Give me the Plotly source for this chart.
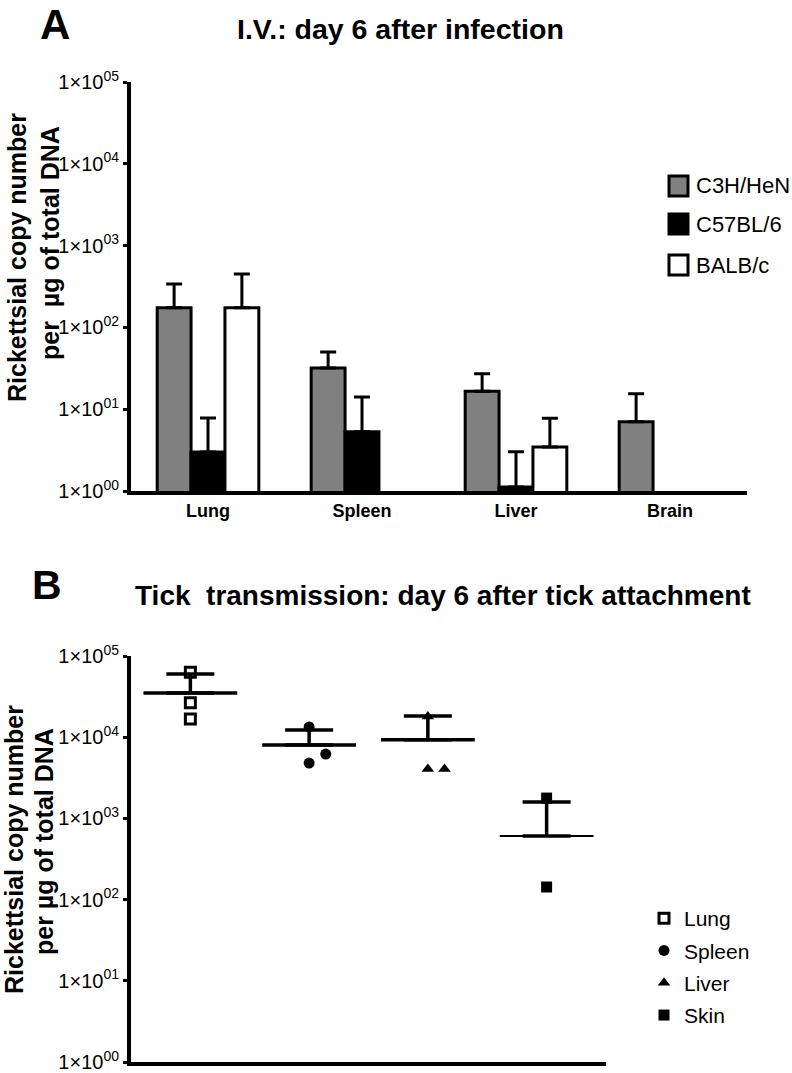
import plotly.graph_objects as go

W, H = 792, 1073
FONT = "Liberation Sans, Arial, sans-serif"

# ---------------- Panel A data ----------------
organs_a = ["Lung", "Spleen", "Liver", "Brain"]
strains = ["C3H/HeN", "C57BL/6", "BALB/c"]
c3h_vals = [174, 32, 16.6, 7.0]
c3h_err = [165, 18, 10.5, 8.4]
c57_vals = [3.0, 5.3, 1.12, None]
c57_err = [4.8, 8.8, 1.9, None]
balb_vals = [174, None, 3.45, None]
balb_err = [275, None, 4.3, None]
strain_colors = ["#808080", "#000000", "#ffffff"]

# ---------------- Panel B data ----------------
organs_b = ["Lung", "Spleen", "Liver", "Skin"]
lung_vals = [63000, 26500, 16700]
lung_jit = [0, 0, 0]
spleen_vals = [13400, 4800, 6200]
spleen_jit = [0, 0, 0.14]
liver_vals = [18000, 4060, 4060]
liver_jit = [0, 0, 0.14]
skin_vals = [1780, 143]
skin_jit = [0, 0]
means_b = [35000, 8000, 9300, 605]
upper_b = [60000, 12300, 18200, 1590]

tick_vals = [1, 10, 100, 1000, 10000, 100000]
tick_text = ["1×10<sup>00</sup>", "1×10<sup>01</sup>", "1×10<sup>02</sup>",
             "1×10<sup>03</sup>", "1×10<sup>04</sup>", "1×10<sup>05</sup>"]


def px(x):
    return x / W


def py(y):
    return 1 - y / H


fig = go.Figure()

# Panel A bars
for name, vals, errs, col in zip(strains, [c3h_vals, c57_vals, balb_vals],
                                 [c3h_err, c57_err, balb_err], strain_colors):
    fig.add_trace(go.Bar(
        x=organs_a, y=vals, name=name, showlegend=False,
        marker=dict(color=col, line=dict(color="black", width=3)),
        error_y=dict(type="data", array=errs, arrayminus=[0] * len(errs),
                     symmetric=False, color="black", thickness=3, width=8),
        xaxis="x", yaxis="y"))

# Panel B points
markers = [
    dict(symbol="square-open", size=10, color="black", line=dict(width=3, color="black")),
    dict(symbol="circle", size=11, color="black"),
    dict(symbol="triangle-up", size=11, color="black"),
    dict(symbol="square", size=11, color="black"),
]
for i, (name, vals, jit, mk) in enumerate(zip(organs_b,
                                              [lung_vals, spleen_vals, liver_vals, skin_vals],
                                              [lung_jit, spleen_jit, liver_jit, skin_jit],
                                              markers)):
    fig.add_trace(go.Scatter(
        x=[i + j for j in jit], y=vals, mode="markers", name=name, legendgroup=name,
        marker=mk, xaxis="x2", yaxis="y2", showlegend=True))

# Panel B mean lines with SEM bars
fig.add_trace(go.Scatter(
    x=list(range(len(organs_b))), y=means_b, mode="markers", showlegend=False,
    marker=dict(symbol="line-ew", size=67, color="black",
                line=dict(color="black", width=[3.5, 3.5, 3.5, 2])),
    error_y=dict(type="data", array=[u - m for u, m in zip(upper_b, means_b)],
                 arrayminus=[0] * len(means_b), symmetric=False,
                 color="black", thickness=3.5, width=24),
    xaxis="x2", yaxis="y2"))

axis_common = dict(showline=True, linecolor="black", linewidth=4, showgrid=False,
                   zeroline=False)
yaxis_common = dict(axis_common, type="log", range=[0, 5], tickvals=tick_vals,
                    ticktext=tick_text, ticks="outside", ticklen=4, tickwidth=3,
                    tickcolor="black", tickfont=dict(size=20, color="black", family=FONT))

fig.update_layout(
    width=W, height=H, autosize=False,
    margin=dict(l=0, r=0, t=0, b=0, pad=0, autoexpand=False),
    paper_bgcolor="white", plot_bgcolor="white",
    font=dict(family=FONT, color="black"),
    barmode="group", bargap=0.34, bargroupgap=0,
    xaxis=dict(axis_common, domain=[px(131), px(747)], type="category",
               categoryorder="array", categoryarray=organs_a, range=[-0.5, 3.5],
               ticks="", tickfont=dict(size=18, color="black", family=FONT, weight="bold"),
               anchor="y"),
    yaxis=dict(yaxis_common, domain=[py(491), py(82)], anchor="x"),
    xaxis2=dict(axis_common, domain=[px(131), px(606)], range=[-0.5, 3.5],
                showticklabels=False, ticks="", anchor="y2"),
    yaxis2=dict(yaxis_common, domain=[py(1062), py(656)], anchor="x2"),
    legend=dict(x=px(644), y=py(898), xanchor="left", yanchor="top",
                font=dict(size=21, family=FONT, color="black"),
                bgcolor="rgba(0,0,0,0)", tracegroupgap=2, itemwidth=30),
)

# Manual legend for panel A
legend_rows = [186, 224, 265]
for name, col, yc in zip(strains, strain_colors, legend_rows):
    fig.add_shape(type="rect", xref="paper", yref="paper",
                  x0=px(669), x1=px(688), y0=py(yc + 10), y1=py(yc - 10),
                  line=dict(color="black", width=3), fillcolor=col)
    fig.add_annotation(x=px(694), y=py(yc), xref="paper", yref="paper",
                       text=name, showarrow=False, xanchor="left", yanchor="middle",
                       font=dict(size=22, family=FONT, color="black"))


def label(txt, xc, yc, size, angle=0):
    fig.add_annotation(x=px(xc), y=py(yc), xref="paper", yref="paper", text=txt,
                       textangle=angle, showarrow=False, xanchor="center",
                       yanchor="middle", font=dict(size=size, family=FONT, color="black"))


# Titles and panel letters
label("<b>A</b>", 55, 25, 42)
label("<b>B</b>", 47, 585, 41)
label("<b>I.V.: day 6 after infection</b>", 401, 29, 28.5)
label("<b>Tick  transmission: day 6 after tick attachment</b>", 443, 595, 28)

# Y axis titles (two lines each)
label("<b>Rickettsial copy number</b>", 17, 258, 25, -90)
label("<b>per&nbsp; µg of total DNA</b>", 50, 243, 25, -90)
label("<b>Rickettsial copy number</b>", 14, 850, 25, -90)
label("<b>per µg of total DNA</b>", 44, 842, 25, -90)

fig.write_html("out.html", config={"displayModeBar": False},
               post_script="document.body.style.margin='0px';")
